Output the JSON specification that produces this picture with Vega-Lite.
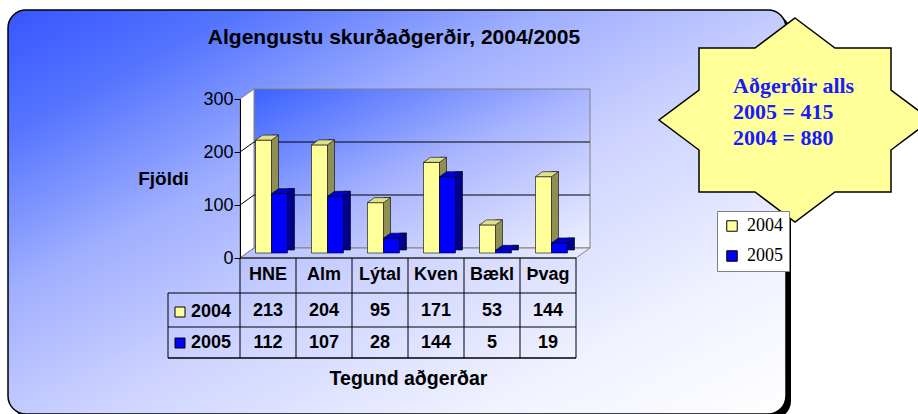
{
  "$schema": "https://vega.github.io/schema/vega-lite/v6.json",
  "width": 336,
  "height": 159,
  "autosize": "none",
  "padding": {"left": 240, "top": 99, "right": 342, "bottom": 156},
  "background": "white",
  "view": {"stroke": null},
  "data": {"values": [
    {"cat": "HNE", "year": 2004, "value": 213},
    {"cat": "Alm", "year": 2004, "value": 204},
    {"cat": "Lýtal", "year": 2004, "value": 95},
    {"cat": "Kven", "year": 2004, "value": 171},
    {"cat": "Bækl", "year": 2004, "value": 53},
    {"cat": "Þvag", "year": 2004, "value": 144},
    {"cat": "HNE", "year": 2005, "value": 112},
    {"cat": "Alm", "year": 2005, "value": 107},
    {"cat": "Lýtal", "year": 2005, "value": 28},
    {"cat": "Kven", "year": 2005, "value": 144},
    {"cat": "Bækl", "year": 2005, "value": 5},
    {"cat": "Þvag", "year": 2005, "value": 19}
  ]},
  "layer": [
    {
      "data": {"values": [{}]},
      "mark": {"type": "rect", "fill": "black", "cornerRadius": 18, "xOffset": -227, "x2Offset": 215, "yOffset": -84, "y2Offset": 161},
      "encoding": {
        "x": {"datum": "HNE", "type": "nominal", "bandPosition": 0, "scale": {"domain": ["HNE", "Alm", "Lýtal", "Kven", "Bækl", "Þvag"], "paddingInner": 0, "paddingOuter": 0}},
        "x2": {"datum": "Þvag", "bandPosition": 1},
        "y": {"datum": 300, "type": "quantitative", "scale": {"domain": [0, 300], "nice": false, "zero": true}},
        "y2": {"datum": 0}
      }
    },
    {
      "data": {"values": [{}]},
      "mark": {"type": "rect", "cornerRadius": 18, "stroke": "black", "strokeWidth": 1.5, "xOffset": -232, "x2Offset": 210, "yOffset": -89, "y2Offset": 156,
        "fill": {"gradient": "linear", "x1": 0, "y1": 0, "x2": 1, "y2": 1, "stops": [
          {"offset": 0, "color": "#3656ff"}, {"offset": 0.15, "color": "#5474ff"}, {"offset": 0.35, "color": "#a0afff"},
          {"offset": 0.55, "color": "#cdd3ff"}, {"offset": 0.8, "color": "#f0f2ff"}, {"offset": 1, "color": "#ffffff"}]}},
      "encoding": {
        "x": {"datum": "HNE", "type": "nominal", "bandPosition": 0},
        "x2": {"datum": "Þvag", "bandPosition": 1},
        "y": {"datum": 300, "type": "quantitative"},
        "y2": {"datum": 0}
      }
    },
    {
      "data": {"values": [{}]},
      "mark": {"type": "text", "text": "Algengustu skurðaðgerðir, 2004/2005", "xOffset": -14, "yOffset": -55, "align": "center", "baseline": "alphabetic", "font": "Liberation Sans", "fontSize": 21, "fontWeight": "bold", "color": "black"},
      "encoding": {
        "x": {"datum": "Lýtal", "type": "nominal", "bandPosition": 1},
        "y": {"datum": 300, "type": "quantitative"}
      }
    },
    {
      "data": {"values": [{}]},
      "mark": {"type": "rect", "stroke": "#808080", "strokeWidth": 1, "xOffset": 14, "x2Offset": 14, "yOffset": -10, "y2Offset": -10,
        "fill": {"gradient": "linear", "x1": 0, "y1": 0, "x2": 1, "y2": 1, "stops": [
          {"offset": 0, "color": "#3a62ff"}, {"offset": 0.5, "color": "#a8b4ff"}, {"offset": 1, "color": "#eef0ff"}]}},
      "encoding": {
        "x": {"datum": "HNE", "type": "nominal", "bandPosition": 0},
        "x2": {"datum": "Þvag", "bandPosition": 1},
        "y": {"datum": 300, "type": "quantitative"},
        "y2": {"datum": 0}
      }
    },
    {
      "data": {"values": [{}]},
      "mark": {"type": "point", "shape": "M0 0 L0 -159 L14 -169 L14 -10 Z", "size": 4, "filled": true, "fill": "white", "stroke": "#808080", "strokeWidth": 1, "opacity": 1},
      "encoding": {
        "x": {"datum": "HNE", "type": "nominal", "bandPosition": 0},
        "y": {"datum": 0, "type": "quantitative"}
      }
    },
    {
      "data": {"values": [{}]},
      "mark": {"type": "point", "shape": "M0 0 L336 0 L350 -10 L14 -10 Z", "size": 4, "filled": true, "stroke": "#808080", "strokeWidth": 1, "opacity": 1,
        "fill": {"gradient": "linear", "x1": 0, "y1": 0, "x2": 1, "y2": 0, "stops": [{"offset": 0, "color": "#b8c2ff"}, {"offset": 1, "color": "#e8ebff"}]}},
      "encoding": {
        "x": {"datum": "HNE", "type": "nominal", "bandPosition": 0},
        "y": {"datum": 0, "type": "quantitative"}
      }
    },
    {
      "data": {"values": [{"t": 100}, {"t": 200}]},
      "mark": {"type": "rule", "color": "black", "strokeWidth": 1, "xOffset": 14, "x2Offset": 14, "yOffset": -10},
      "encoding": {
        "x": {"datum": "HNE", "type": "nominal", "bandPosition": 0},
        "x2": {"datum": "Þvag", "bandPosition": 1},
        "y": {"field": "t", "type": "quantitative"}
      }
    },
    {
      "data": {"values": [{"t": 100}, {"t": 200}]},
      "mark": {"type": "rule", "color": "black", "strokeWidth": 1, "x2Offset": 14, "y2Offset": -10},
      "encoding": {
        "x": {"datum": "HNE", "type": "nominal", "bandPosition": 0},
        "x2": {"datum": "HNE", "bandPosition": 0},
        "y": {"field": "t", "type": "quantitative"},
        "y2": {"field": "t"}
      }
    },
    {
      "transform": [{"filter": "datum.year == 2004"}],
      "mark": {"type": "bar", "width": 7, "xOffset": 7, "yOffset": -10, "y2Offset": -8, "fill": "#8f8f55", "stroke": "black", "strokeWidth": 0.6},
      "encoding": {
        "x": {"field": "cat", "type": "nominal"},
        "y": {"field": "value", "type": "quantitative"},
        "y2": {"datum": 0}
      }
    },
    {
      "transform": [{"filter": "datum.year == 2004"}],
      "mark": {"type": "bar", "width": 16, "xOffset": -4.5, "yOffset": -5, "y2Offset": -5, "stroke": "black", "strokeWidth": 0.6, "opacity": 1},
      "encoding": {
        "x": {"field": "cat", "type": "nominal", "axis": {"zindex": 1, "labels": false, "ticks": false, "domain": false, "title": "Tegund aðgerðar", "titleFont": "Liberation Sans", "titleFontSize": 19.5, "titleFontWeight": "bold", "titleColor": "black", "titleY": 120, "titleBaseline": "middle"}},
        "y": {"field": "value", "type": "quantitative", "axis": {"zindex": 1, "values": [0, 100, 200, 300], "grid": false, "domainColor": "black", "tickColor": "black", "tickSize": 6, "labelFont": "Liberation Sans", "labelFontSize": 18, "labelColor": "black", "labelPadding": 1, "title": "Fjöldi", "titleFont": "Liberation Sans", "titleFontSize": 19, "titleFontWeight": "bold", "titleColor": "black", "titleAngle": 0, "titleX": -77, "titleY": 79, "titleAlign": "center", "titleBaseline": "middle"}},
        "y2": {"datum": 0},
        "color": {"field": "year", "type": "nominal", "scale": {"domain": [2004, 2005], "range": ["#ffff99", "#0000ff"]},
          "legend": {"orient": "none", "legendX": 477, "legendY": 112, "title": null, "fillColor": "white", "strokeColor": "#808080", "padding": 6, "symbolType": "square", "symbolSize": 110, "symbolStrokeColor": "black", "symbolStrokeWidth": 1, "symbolOpacity": 1, "labelFont": "Liberation Serif", "labelFontSize": 18, "labelColor": "black", "rowPadding": 12, "labelOffset": 6}}
      }
    },
    {
      "transform": [{"filter": "datum.year == 2004"}],
      "mark": {"type": "point", "shape": "M0 0 L16 0 L23 -5 L7 -5 Z", "size": 4, "filled": true, "fill": "#e0e08c", "stroke": "black", "strokeWidth": 0.6, "opacity": 1, "xOffset": -12.5, "yOffset": -5},
      "encoding": {
        "x": {"field": "cat", "type": "nominal"},
        "y": {"field": "value", "type": "quantitative"}
      }
    },
    {
      "transform": [{"filter": "datum.year == 2005"}],
      "mark": {"type": "bar", "width": 7, "xOffset": 23, "yOffset": -10, "y2Offset": -8, "fill": "#00008b", "stroke": "black", "strokeWidth": 0.6},
      "encoding": {
        "x": {"field": "cat", "type": "nominal"},
        "y": {"field": "value", "type": "quantitative"},
        "y2": {"datum": 0}
      }
    },
    {
      "transform": [{"filter": "datum.year == 2005"}],
      "mark": {"type": "bar", "width": 16, "xOffset": 11.5, "yOffset": -5, "y2Offset": -5, "stroke": "black", "strokeWidth": 0.6, "opacity": 1},
      "encoding": {
        "x": {"field": "cat", "type": "nominal"},
        "y": {"field": "value", "type": "quantitative"},
        "y2": {"datum": 0},
        "color": {"field": "year", "type": "nominal"}
      }
    },
    {
      "transform": [{"filter": "datum.year == 2005"}],
      "mark": {"type": "point", "shape": "M0 0 L16 0 L23 -5 L7 -5 Z", "size": 4, "filled": true, "fill": "#0000cc", "stroke": "black", "strokeWidth": 0.6, "opacity": 1, "xOffset": 3.5, "yOffset": -5},
      "encoding": {
        "x": {"field": "cat", "type": "nominal"},
        "y": {"field": "value", "type": "quantitative"}
      }
    },
    {
      "data": {"values": [{}]},
      "mark": {"type": "rule", "color": "black", "strokeWidth": 1},
      "encoding": {
        "x": {"datum": "HNE", "type": "nominal", "bandPosition": 0},
        "x2": {"datum": "Þvag", "bandPosition": 1},
        "y": {"datum": 0, "type": "quantitative"}
      }
    },
    {
      "transform": [{"filter": "datum.year == 2004"}],
      "mark": {"type": "rule", "color": "black", "strokeWidth": 1, "y2Offset": 100},
      "encoding": {
        "x": {"field": "cat", "type": "nominal", "bandPosition": 0},
        "y": {"datum": 0, "type": "quantitative"},
        "y2": {"datum": 0}
      }
    },
    {
      "data": {"values": [{}]},
      "mark": {"type": "rule", "color": "black", "strokeWidth": 1, "y2Offset": 100},
      "encoding": {
        "x": {"datum": "Þvag", "type": "nominal", "bandPosition": 1},
        "y": {"datum": 0, "type": "quantitative"},
        "y2": {"datum": 0}
      }
    },
    {
      "data": {"values": [{}]},
      "mark": {"type": "rule", "color": "black", "strokeWidth": 1, "xOffset": -72, "yOffset": 35, "y2Offset": 100},
      "encoding": {
        "x": {"datum": "HNE", "type": "nominal", "bandPosition": 0},
        "y": {"datum": 0, "type": "quantitative"},
        "y2": {"datum": 0}
      }
    },
    {
      "data": {"values": [{}]},
      "mark": {"type": "rule", "color": "black", "strokeWidth": 1, "xOffset": -72, "yOffset": 35},
      "encoding": {
        "x": {"datum": "HNE", "type": "nominal", "bandPosition": 0},
        "x2": {"datum": "Þvag", "bandPosition": 1},
        "y": {"datum": 0, "type": "quantitative"}
      }
    },
    {
      "data": {"values": [{}]},
      "mark": {"type": "rule", "color": "black", "strokeWidth": 1, "xOffset": -72, "yOffset": 69},
      "encoding": {
        "x": {"datum": "HNE", "type": "nominal", "bandPosition": 0},
        "x2": {"datum": "Þvag", "bandPosition": 1},
        "y": {"datum": 0, "type": "quantitative"}
      }
    },
    {
      "data": {"values": [{}]},
      "mark": {"type": "rule", "color": "black", "strokeWidth": 1.5, "xOffset": -72, "yOffset": 100},
      "encoding": {
        "x": {"datum": "HNE", "type": "nominal", "bandPosition": 0},
        "x2": {"datum": "Þvag", "bandPosition": 1},
        "y": {"datum": 0, "type": "quantitative"}
      }
    },
    {
      "transform": [{"filter": "datum.year == 2004"}],
      "mark": {"type": "text", "yOffset": 17, "font": "Liberation Sans", "fontSize": 18, "fontWeight": "bold", "baseline": "middle", "align": "center", "color": "black"},
      "encoding": {
        "x": {"field": "cat", "type": "nominal"},
        "y": {"datum": 0, "type": "quantitative"},
        "text": {"field": "cat"}
      }
    },
    {
      "transform": [{"filter": "datum.year == 2004"}],
      "mark": {"type": "text", "yOffset": 53, "font": "Liberation Sans", "fontSize": 18, "fontWeight": "bold", "baseline": "middle", "align": "center", "color": "black"},
      "encoding": {
        "x": {"field": "cat", "type": "nominal"},
        "y": {"datum": 0, "type": "quantitative"},
        "text": {"field": "value"}
      }
    },
    {
      "transform": [{"filter": "datum.year == 2005"}],
      "mark": {"type": "text", "yOffset": 85, "font": "Liberation Sans", "fontSize": 18, "fontWeight": "bold", "baseline": "middle", "align": "center", "color": "black"},
      "encoding": {
        "x": {"field": "cat", "type": "nominal"},
        "y": {"datum": 0, "type": "quantitative"},
        "text": {"field": "value"}
      }
    },
    {
      "transform": [{"filter": "datum.year == 2004 && datum.cat == 'HNE'"}],
      "mark": {"type": "point", "shape": "square", "size": 100, "filled": true, "stroke": "black", "strokeWidth": 1, "opacity": 1, "xOffset": -60, "yOffset": 54},
      "encoding": {
        "x": {"datum": "HNE", "type": "nominal", "bandPosition": 0},
        "y": {"datum": 0, "type": "quantitative"},
        "color": {"field": "year", "type": "nominal"}
      }
    },
    {
      "transform": [{"filter": "datum.year == 2005 && datum.cat == 'HNE'"}],
      "mark": {"type": "point", "shape": "square", "size": 100, "filled": true, "stroke": "black", "strokeWidth": 1, "opacity": 1, "xOffset": -60, "yOffset": 85},
      "encoding": {
        "x": {"datum": "HNE", "type": "nominal", "bandPosition": 0},
        "y": {"datum": 0, "type": "quantitative"},
        "color": {"field": "year", "type": "nominal"}
      }
    },
    {
      "transform": [{"filter": "datum.year == 2004 && datum.cat == 'HNE'"}],
      "mark": {"type": "text", "xOffset": -49, "yOffset": 54, "font": "Liberation Sans", "fontSize": 18, "fontWeight": "bold", "baseline": "middle", "align": "left", "color": "black"},
      "encoding": {
        "x": {"datum": "HNE", "type": "nominal", "bandPosition": 0},
        "y": {"datum": 0, "type": "quantitative"},
        "text": {"field": "year", "type": "nominal"}
      }
    },
    {
      "transform": [{"filter": "datum.year == 2005 && datum.cat == 'HNE'"}],
      "mark": {"type": "text", "xOffset": -49, "yOffset": 85, "font": "Liberation Sans", "fontSize": 18, "fontWeight": "bold", "baseline": "middle", "align": "left", "color": "black"},
      "encoding": {
        "x": {"datum": "HNE", "type": "nominal", "bandPosition": 0},
        "y": {"datum": 0, "type": "quantitative"},
        "text": {"field": "year", "type": "nominal"}
      }
    },
    {
      "data": {"values": [{}]},
      "mark": {"type": "point", "shape": "M0 -102 L40 -72 L96 -72 L96 -30 L136 0 L96 30 L96 72 L40 72 L0 102 L-40 72 L-96 72 L-96 30 L-136 0 L-96 -30 L-96 -72 L-40 -72 Z", "size": 4, "filled": true, "fill": "#ffff99", "stroke": "black", "strokeWidth": 1.5, "opacity": 1, "xOffset": 219, "yOffset": 21},
      "encoding": {
        "x": {"datum": "Þvag", "type": "nominal", "bandPosition": 1},
        "y": {"datum": 300, "type": "quantitative"}
      }
    },
    {
      "data": {"values": [{}]},
      "mark": {"type": "text", "text": ["Aðgerðir alls", "2005 = 415", "2004 = 880"], "xOffset": 157, "yOffset": -23, "align": "left", "baseline": "top", "font": "Liberation Serif", "fontSize": 22, "fontWeight": "bold", "color": "#1a1aff", "lineHeight": 26},
      "encoding": {
        "x": {"datum": "Þvag", "type": "nominal", "bandPosition": 1},
        "y": {"datum": 300, "type": "quantitative"}
      }
    }
  ]
}
